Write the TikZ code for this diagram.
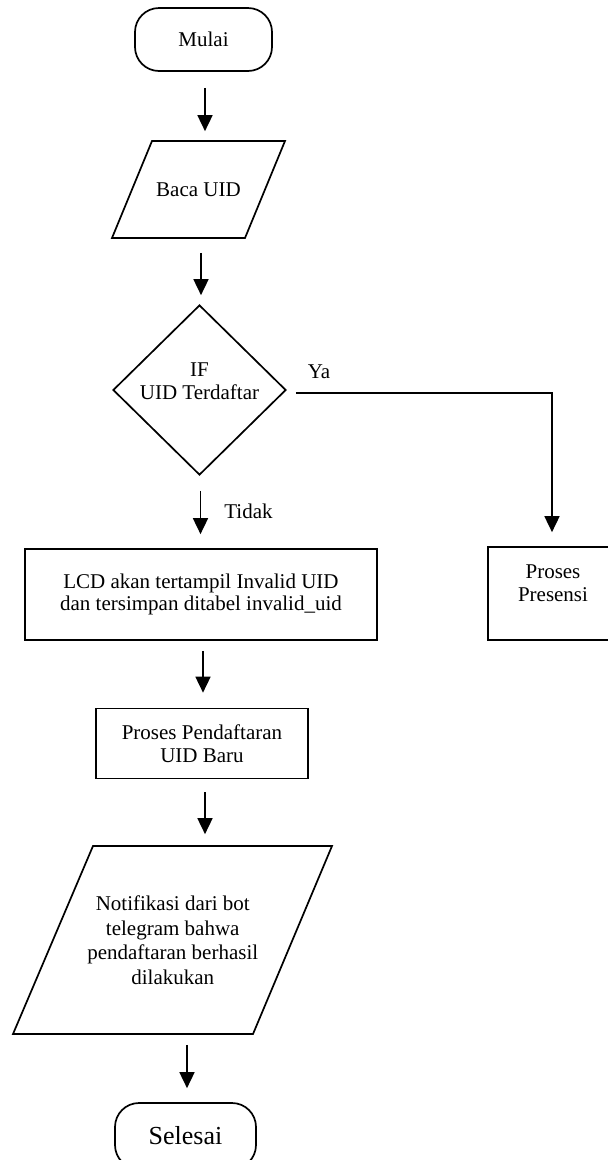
\documentclass[tikz,border=0pt]{standalone}
\usepackage{fontspec}
\setmainfont{Liberation Serif}
\usetikzlibrary{arrows.meta,shapes.geometric}
\begin{document}
\begin{tikzpicture}[x=1pt,y=-1pt, line width=1.7pt,
  txt/.style={font=\fontsize{21}{23.5}\selectfont, align=center, inner sep=0pt},
  arr/.style={-{Triangle[length=16pt,width=15pt]}},
  boxr/.style={draw, rectangle, inner sep=0pt},
  term/.style={draw, rectangle, rounded corners=24pt, inner sep=0pt}]
\useasboundingbox (0,0) rectangle (608,1160);
\clip (0,0) rectangle (608,1160);

% Mulai
\node[term, txt, minimum width=137pt, minimum height=63pt] (mulai) at (203.5,39.5) {Mulai};

% Baca UID
\node[txt, minimum width=133pt, minimum height=97pt] (baca) at (198.5,189.5) {Baca UID};
\draw (152,141) -- (285,141) -- (245,238) -- (112,238) -- cycle;

% Decision
\node[draw, diamond, minimum width=173pt, minimum height=170pt, inner sep=0pt] (cond) at (199.5,390) {};
\node[txt] (condtxt) at (199.5,381) {IF\\UID Terdaftar};

% LCD box
\node[boxr, txt, minimum width=352pt, minimum height=91pt, font=\fontsize{21}{22.5}\selectfont] (lcd) at (201,594.5) {LCD akan tertampil Invalid UID\\dan tersimpan ditabel invalid\_uid};

% Proses Presensi
\node[boxr, minimum width=128pt, minimum height=93pt] (pres) at (552,593.5) {};
\node[txt] (prestxt) at (553,583) {Proses\\Presensi};

% Proses Pendaftaran
\node[boxr, txt, minimum width=212pt, minimum height=70pt] (pend) at (202,743.5) {Proses Pendaftaran\\UID Baru};

% Notifikasi
\node[txt, minimum width=160pt, minimum height=188pt, font=\fontsize{21}{24.5}\selectfont] (notif) at (172.75,940) {Notifikasi dari bot\\telegram bahwa\\pendaftaran berhasil\\dilakukan};
\draw (93,846) -- (332,846) -- (253,1034) -- (13,1034) -- cycle;

% Selesai
\node[term, minimum width=141pt, minimum height=66pt, font=\fontsize{26}{28}\selectfont] (sel) at (185.5,1136) {Selesai};

% Connectors
\draw[arr, shorten <=16pt, shorten >=9pt] ([xshift=1.5pt]mulai.south) -- ([xshift=1.5pt]mulai.south |- baca.north);
\draw[arr, shorten <=14pt, shorten >=9pt] ([xshift=2.5pt]baca.south) -- ([xshift=2.5pt]baca.south |- cond.north);
\draw[arr, shorten <=15pt, shorten >=14pt] ([xshift=1pt]cond.south) -- ([xshift=1pt]cond.south |- lcd.north);
\node[txt] (tidak) at (248.5,511) {Tidak};
\draw[arr, shorten <=9pt, shorten >=14pt] ([yshift=-3pt]cond.east) -- ([yshift=-3pt]cond.east -| pres.north) -- (pres.north);
\node[txt] (ya) at (319,372) {Ya};
\draw[arr, shorten <=10pt, shorten >=15pt] ([xshift=2pt]lcd.south) -- ([xshift=2pt]lcd.south |- pend.north);
\draw[arr, shorten <=13pt, shorten >=11pt] ([xshift=3pt]pend.south) -- ([xshift=3pt]pend.south |- notif.north);
\draw[arr, shorten <=10pt, shorten >=14pt] ([xshift=1.5pt]notif.south -| sel.north) -- ([xshift=1.5pt]sel.north);
\end{tikzpicture}
\end{document}
